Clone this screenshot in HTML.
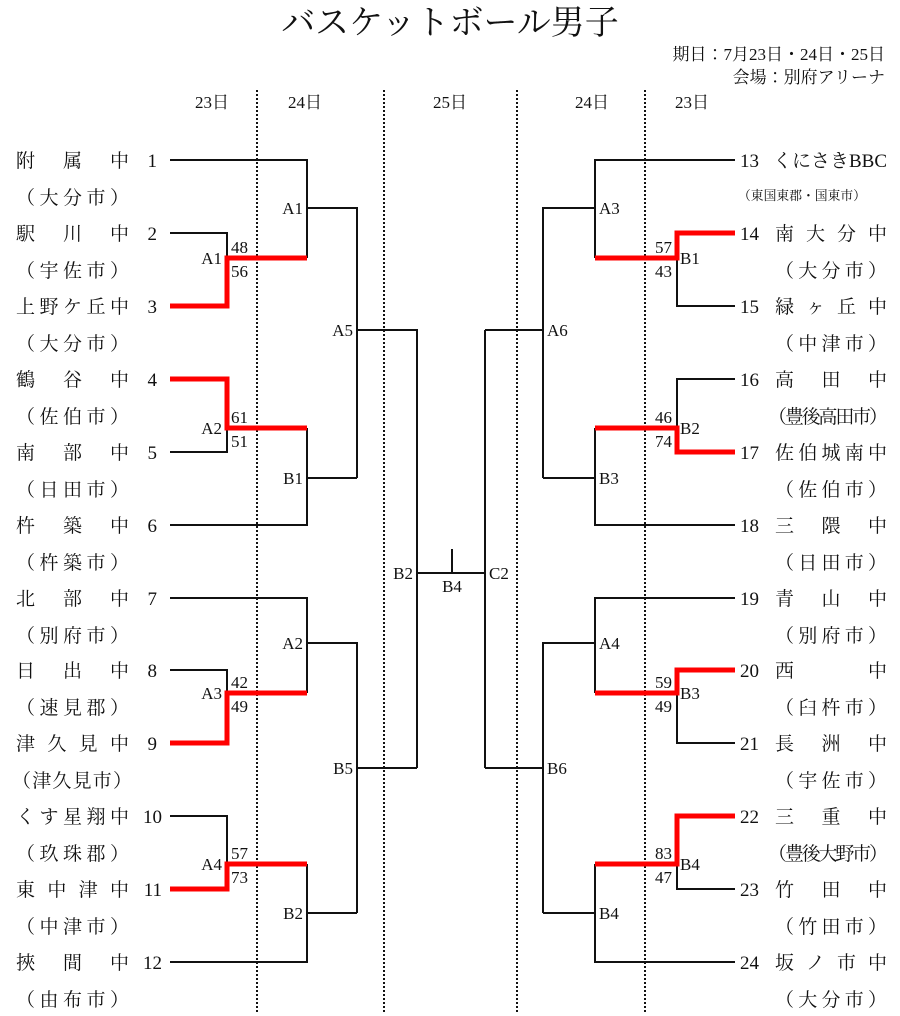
<!DOCTYPE html>
<html><head><meta charset="utf-8"><style>
html,body{margin:0;padding:0;background:#fff}
svg{display:block}
text{font-family:"Liberation Serif","Noto Serif CJK JP",serif;fill:#111}
.n{font-size:19px}
.s{font-size:17px}
.k{stroke:#111;stroke-width:2;fill:none}
.r{stroke:#f00;stroke-width:5;fill:none}
.d{stroke:#111;stroke-width:2;stroke-dasharray:2 2}
</style></head><body>
<svg width="900" height="1016" viewBox="0 0 900 1016" xmlns="http://www.w3.org/2000/svg">
<text x="450" y="34" font-size="34" text-anchor="middle">バスケットボール男子</text>
<text x="885" y="60" class="s" text-anchor="end">期日：7月23日・24日・25日</text>
<text x="885" y="83" class="s" text-anchor="end">会場：別府アリーナ</text>
<g class="s" text-anchor="middle">
<text x="212" y="108">23日</text><text x="305" y="108">24日</text><text x="450" y="108">25日</text><text x="592" y="108">24日</text><text x="692" y="108">23日</text>
</g>
<line class="d" x1="257" y1="90" x2="257" y2="1012"/>
<line class="d" x1="384" y1="90" x2="384" y2="1012"/>
<line class="d" x1="517" y1="90" x2="517" y2="1012"/>
<line class="d" x1="645" y1="90" x2="645" y2="1012"/>

<path class="k" d="M170 160H307V258 M170 233H227V258 M307 208H357V478 M357 330H417V768 M170 452H227V428 M307 428V525H170 M307 478H357
M170 598H307V693 M170 670H227V693 M307 643H357V913 M357 768H417 M170 816H227V864 M307 864V962H170 M307 913H357 M417 573H485 M452 549V573 M485 330V768"/>
<path class="k" d="M735 160H595V258 M735 306H677V258 M595 208H543V478 M543 330H485 M735 379H677V428 M595 428V525H735 M595 478H543
M735 598H595V693 M735 743H677V693 M595 643H543V913 M543 768H485 M735 889H677V864 M595 864V962H735 M595 913H543"/>
<path class="r" d="M170 306H227V258H307 M170 379H227V428H307 M170 743H227V693H307 M170 889H227V864H307"/>
<path class="r" d="M735 233H677V258H595 M735 452H677V428H595 M735 670H677V693H595 M735 816H677V864H595"/>

<g class="s">
<g text-anchor="end">
<text x="303" y="214">A1</text><text x="353" y="336">A5</text><text x="303" y="484">B1</text>
<text x="303" y="649">A2</text><text x="353" y="774">B5</text><text x="303" y="919">B2</text>
<text x="413" y="579">B2</text>
<text x="222" y="264">A1</text><text x="222" y="434">A2</text><text x="222" y="699">A3</text><text x="222" y="870">A4</text>
<text x="672" y="253">57</text><text x="672" y="277">43</text>
<text x="672" y="423">46</text><text x="672" y="447">74</text>
<text x="672" y="688">59</text><text x="672" y="712">49</text>
<text x="672" y="859">83</text><text x="672" y="883">47</text>
</g>
<text x="452" y="592" text-anchor="middle">B4</text>
<text x="489" y="579">C2</text>
<text x="599" y="214">A3</text><text x="547" y="336">A6</text><text x="599" y="484">B3</text>
<text x="599" y="649">A4</text><text x="547" y="774">B6</text><text x="599" y="919">B4</text>
<text x="680" y="264">B1</text><text x="680" y="434">B2</text><text x="680" y="699">B3</text><text x="680" y="870">B4</text>
<text x="231" y="253">48</text><text x="231" y="277">56</text>
<text x="231" y="423">61</text><text x="231" y="447">51</text>
<text x="231" y="688">42</text><text x="231" y="712">49</text>
<text x="231" y="859">57</text><text x="231" y="883">73</text>
</g>

<g class="n">
<g text-anchor="end">
<text x="157" y="167">1</text><text x="157" y="240">2</text><text x="157" y="313">3</text><text x="157" y="386">4</text>
<text x="157" y="459">5</text><text x="157" y="532">6</text><text x="157" y="605">7</text><text x="157" y="677">8</text>
<text x="157" y="750">9</text><text x="162" y="823">10</text><text x="162" y="896">11</text><text x="162" y="969">12</text>
</g>
<text x="16" y="167" textLength="113" lengthAdjust="spacing">附属中</text>
<text x="16" y="204" textLength="113" lengthAdjust="spacing">（大分市）</text>
<text x="16" y="240" textLength="113" lengthAdjust="spacing">駅川中</text>
<text x="16" y="277" textLength="113" lengthAdjust="spacing">（宇佐市）</text>
<text x="16" y="313" textLength="113" lengthAdjust="spacing">上野ケ丘中</text>
<text x="16" y="350" textLength="113" lengthAdjust="spacing">（大分市）</text>
<text x="16" y="386" textLength="113" lengthAdjust="spacing">鶴谷中</text>
<text x="16" y="423" textLength="113" lengthAdjust="spacing">（佐伯市）</text>
<text x="16" y="459" textLength="113" lengthAdjust="spacing">南部中</text>
<text x="16" y="496" textLength="113" lengthAdjust="spacing">（日田市）</text>
<text x="16" y="532" textLength="113" lengthAdjust="spacing">杵築中</text>
<text x="16" y="569" textLength="113" lengthAdjust="spacing">（杵築市）</text>
<text x="16" y="605" textLength="113" lengthAdjust="spacing">北部中</text>
<text x="16" y="642" textLength="113" lengthAdjust="spacing">（別府市）</text>
<text x="16" y="677" textLength="113" lengthAdjust="spacing">日出中</text>
<text x="16" y="714" textLength="113" lengthAdjust="spacing">（速見郡）</text>
<text x="16" y="750" textLength="113" lengthAdjust="spacing">津久見中</text>
<text x="12" y="787" textLength="120" lengthAdjust="spacing">（津久見市）</text>
<text x="16" y="823" textLength="113" lengthAdjust="spacing">くす星翔中</text>
<text x="16" y="860" textLength="113" lengthAdjust="spacing">（玖珠郡）</text>
<text x="16" y="896" textLength="113" lengthAdjust="spacing">東中津中</text>
<text x="16" y="933" textLength="113" lengthAdjust="spacing">（中津市）</text>
<text x="16" y="969" textLength="113" lengthAdjust="spacing">挾間中</text>
<text x="16" y="1006" textLength="113" lengthAdjust="spacing">（由布市）</text>
</g>

<g class="n">
<text x="740" y="167">13</text><text x="740" y="240">14</text><text x="740" y="313">15</text><text x="740" y="386">16</text>
<text x="740" y="459">17</text><text x="740" y="532">18</text><text x="740" y="605">19</text><text x="740" y="677">20</text>
<text x="740" y="750">21</text><text x="740" y="823">22</text><text x="740" y="896">23</text><text x="740" y="969">24</text>
<text x="773" y="167" textLength="114" lengthAdjust="spacing">くにさきBBC</text>
<text x="738" y="200" font-size="13" textLength="128" lengthAdjust="spacingAndGlyphs">（東国東郡・国東市）</text>
<text x="775" y="240" textLength="112" lengthAdjust="spacing">南大分中</text>
<text x="775" y="277" textLength="112" lengthAdjust="spacing">（大分市）</text>
<text x="775" y="313" textLength="112" lengthAdjust="spacing">緑ヶ丘中</text>
<text x="775" y="350" textLength="112" lengthAdjust="spacing">（中津市）</text>
<text x="775" y="386" textLength="112" lengthAdjust="spacing">高田中</text>
<text x="768" y="423" textLength="120" lengthAdjust="spacing">（豊後高田市）</text>
<text x="775" y="459" textLength="112" lengthAdjust="spacing">佐伯城南中</text>
<text x="775" y="496" textLength="112" lengthAdjust="spacing">（佐伯市）</text>
<text x="775" y="532" textLength="112" lengthAdjust="spacing">三隈中</text>
<text x="775" y="569" textLength="112" lengthAdjust="spacing">（日田市）</text>
<text x="775" y="605" textLength="112" lengthAdjust="spacing">青山中</text>
<text x="775" y="642" textLength="112" lengthAdjust="spacing">（別府市）</text>
<text x="775" y="677" textLength="112" lengthAdjust="spacing">西中</text>
<text x="775" y="714" textLength="112" lengthAdjust="spacing">（臼杵市）</text>
<text x="775" y="750" textLength="112" lengthAdjust="spacing">長洲中</text>
<text x="775" y="787" textLength="112" lengthAdjust="spacing">（宇佐市）</text>
<text x="775" y="823" textLength="112" lengthAdjust="spacing">三重中</text>
<text x="768" y="860" textLength="120" lengthAdjust="spacing">（豊後大野市）</text>
<text x="775" y="896" textLength="112" lengthAdjust="spacing">竹田中</text>
<text x="775" y="933" textLength="112" lengthAdjust="spacing">（竹田市）</text>
<text x="775" y="969" textLength="112" lengthAdjust="spacing">坂ノ市中</text>
<text x="775" y="1006" textLength="112" lengthAdjust="spacing">（大分市）</text>
</g>
</svg>
</body></html>
